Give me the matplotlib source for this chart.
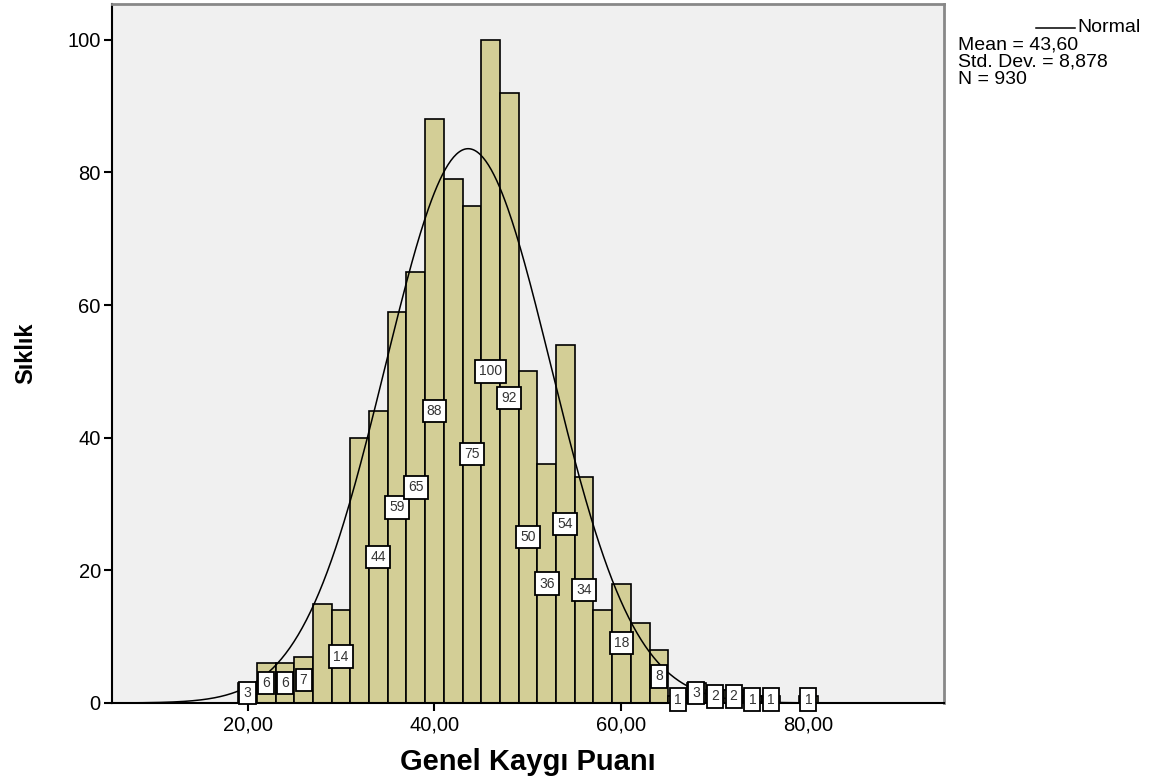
import numpy as np
import matplotlib.pyplot as plt

plt.rcParams['font.family'] = ['Liberation Sans', 'DejaVu Sans']

# bin centres (width 2) and counts
bin_centers = [20, 22, 24, 26, 28, 30, 32, 34, 36, 38, 40, 42, 44, 46, 48,
               50, 52, 54, 56, 58, 60, 62, 64, 66, 68, 70, 72, 74, 76, 80]
counts = [3, 6, 6, 7, 15, 14, 40, 44, 59, 65, 88, 79, 75, 100, 92,
          50, 36, 54, 34, 14, 18, 12, 8, 1, 3, 2, 2, 1, 1, 1]
# bars that carry a value label
labelled = [20, 22, 24, 26, 30, 34, 36, 38, 40, 44, 46, 48,
            50, 52, 54, 56, 60, 64, 66, 68, 70, 72, 74, 76, 80]

mean = 43.60
std = 8.878
n = 930
bin_width = 2

xticks = [20, 40, 60, 80]
xtick_labels = ['20,00', '40,00', '60,00', '80,00']
yticks = [0, 20, 40, 60, 80, 100]

fig = plt.figure(figsize=(11.65, 7.83), dpi=100)
ax = fig.add_axes([0.0961, 0.1022, 0.7142, 0.8927])
ax.set_facecolor('#f0f0f0')

ax.bar(bin_centers, counts, width=bin_width, color='#d3ce96',
       edgecolor='black', linewidth=1.2, zorder=2)

xs = np.linspace(5.5, 94.5, 600)
pdf = np.exp(-0.5 * ((xs - mean) / std) ** 2) / (std * np.sqrt(2 * np.pi))
ax.plot(xs, n * bin_width * pdf, color='black', linewidth=1.1, zorder=3)

for c, h in zip(bin_centers, counts):
    if c not in labelled:
        continue
    ax.text(c, h / 2, str(h), ha='center', va='center', fontsize=10,
            color='#333333', zorder=4,
            bbox=dict(boxstyle='square,pad=0.3', facecolor='white',
                      edgecolor='black', linewidth=1.3))

ax.set_xlim(5.5, 94.5)
ax.set_ylim(0, 105.4)
ax.set_xticks(xticks)
ax.set_xticklabels(xtick_labels)
ax.set_yticks(yticks)
ax.tick_params(axis='both', direction='out', length=6, width=1.5,
               labelsize=14.5, colors='black')
ax.tick_params(axis='x', pad=3)
ax.tick_params(axis='y', pad=2)

for side in ['left', 'bottom']:
    ax.spines[side].set_color('black')
    ax.spines[side].set_linewidth(1.5)
for side in ['top', 'right']:
    ax.spines[side].set_color('#888888')
    ax.spines[side].set_linewidth(2)

ax.set_xlabel('Genel Kaygı Puanı', fontsize=21, fontweight='bold', labelpad=10)
ax.set_ylabel('Sıklık', fontsize=17, fontweight='bold', labelpad=22)

# legend block with distribution summary
fig.add_artist(plt.Line2D([1036 / 1165, 1075 / 1165], [1 - 28 / 783, 1 - 28 / 783],
                          color='black', linewidth=1.1))
fig.text(1077 / 1165, 1 - 28 / 783, 'Normal', fontsize=14, va='center', ha='left')
fig.text(958 / 1165, 1 - 45 / 783, 'Mean = 43,60', fontsize=14, va='center', ha='left')
fig.text(958 / 1165, 1 - 62 / 783, 'Std. Dev. = 8,878', fontsize=14, va='center', ha='left')
fig.text(958 / 1165, 1 - 79 / 783, 'N = 930', fontsize=14, va='center', ha='left')

fig.savefig('out.png', dpi=100)
